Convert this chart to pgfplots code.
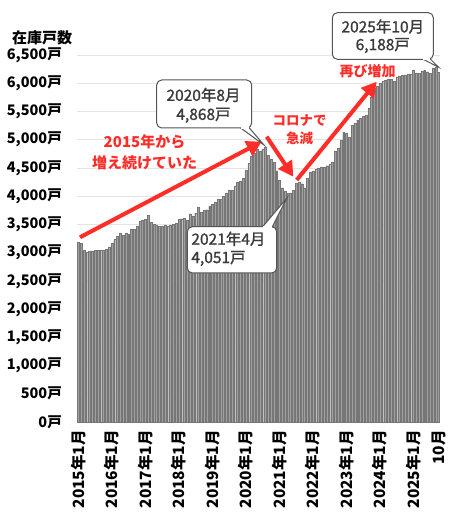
\documentclass[border=0pt]{standalone}
\usepackage{pgfplots}
\pgfplotsset{compat=1.18}
\usepackage{pgfplotstable}
\usepackage{fontspec}
\setmainfont{Noto Sans CJK JP}
\newfontfamily\medfont{Noto Sans CJK JP}[FakeBold=1.2]
\usetikzlibrary{arrows.meta}
\definecolor{barfill}{RGB}{160,160,160}
\definecolor{bardraw}{RGB}{118,118,118}
\definecolor{gridc}{RGB}{228,228,228}
\definecolor{axisc}{RGB}{90,90,90}
\definecolor{redc}{RGB}{255,45,40}
\definecolor{calltext}{RGB}{58,58,58}
\definecolor{callline}{RGB}{85,85,85}

\pgfplotstableread{
i v
0 3180
1 3170
2 3040
3 3010
4 3020
5 3030
6 3035
7 3045
8 3050
9 3045
10 3060
11 3100
12 3160
13 3230
14 3290
15 3350
16 3310
17 3350
18 3330
19 3410
20 3420
21 3470
22 3550
23 3580
24 3590
25 3666
26 3540
27 3510
28 3490
29 3460
30 3470
31 3490
32 3460
33 3480
34 3500
35 3520
36 3590
37 3600
38 3610
39 3570
40 3690
41 3650
42 3700
43 3800
44 3720
45 3750
46 3760
47 3830
48 3860
49 3900
50 3950
51 3940
52 4000
53 4060
54 4110
55 4100
56 4180
57 4250
58 4270
59 4320
60 4460
61 4580
62 4700
63 4760
64 4840
65 4790
66 4830
67 4868
68 4720
69 4650
70 4600
71 4450
72 4280
73 4150
74 4080
75 4051
76 4060
77 4100
78 4230
79 4250
80 4220
81 4150
82 4320
83 4430
84 4440
85 4470
86 4500
87 4520
88 4510
89 4540
90 4560
91 4600
92 4790
93 4850
94 4990
95 5140
96 5110
97 5050
98 5260
99 5290
100 5350
101 5380
102 5410
103 5440
104 5560
105 5760
106 5910
107 5950
108 6000
109 6030
110 6050
111 6065
112 6070
113 6030
114 6100
115 6125
116 6145
117 6150
118 6165
119 6160
120 6235
121 6185
122 6175
123 6220
124 6235
125 6205
126 6180
127 6265
128 6280
129 6188
}\datatable

\begin{document}
\begin{tikzpicture}
\useasboundingbox (0,0) rectangle (450pt,513pt);
\begin{axis}[
  at={(77pt,91pt)}, anchor=south west,
  scale only axis, width=363pt, height=367pt,
  xmin=-0.5, xmax=129.5, ymin=0, ymax=6500,
  axis x line*=bottom, axis y line*=left,
  x axis line style={draw=axisc, line width=1pt},
  y axis line style={draw=none},
  major tick length=0pt,
  ymajorgrids, grid style={draw=gridc, line width=0.8pt},
  ytick={0,500,...,6500},
  yticklabels={{0戸},{500戸},{1,000戸},{1,500戸},{2,000戸},{2,500戸},{3,000戸},{3,500戸},{4,000戸},{4,500戸},{5,000戸},{5,500戸},{6,000戸},{6,500戸}},
  yticklabel style={inner sep=0pt, font=\fontsize{14.5}{16}\selectfont\bfseries},
  yticklabel shift=15pt,
  xtick={0,12,24,36,48,60,72,84,96,108,120,129},
  xticklabels={2015年1月,2016年1月,2017年1月,2018年1月,2019年1月,2020年1月,2021年1月,2022年1月,2023年1月,2024年1月,2025年1月,10月},
  xticklabel style={rotate=90, anchor=east, inner sep=0pt, font=\fontsize{15.5}{17}\selectfont\bfseries},
  xticklabel shift=8pt,
  clip=false,
]
\addplot[ybar, bar width=1.95pt, fill=barfill, draw=bardraw, line width=0.3pt] table[x=i, y=v] {\datatable};
\end{axis}

\begin{scope}[x=1pt, y=-1pt, yshift=513pt]
  % title
  \node[anchor=west, inner sep=0pt, font=\fontsize{15}{17}\selectfont\bfseries] at (12,37.5) {在庫戸数};

  % red arrows
  \draw[redc, line width=4pt, -{Triangle[length=15pt,width=16pt]}] (80,237.3) -- (261.7,141.7);
  \draw[redc, line width=4pt, -{Triangle[length=15pt,width=16pt]}] (266.7,136.7) -- (293.3,176.7);
  \draw[redc, line width=4pt, -{Triangle[length=15pt,width=16pt]}] (296.7,180) -- (376.7,81.7);

  % red texts
  \node[text=redc, align=center, inner sep=0pt, font=\fontsize{15}{21.5}\selectfont\bfseries] at (144.5,152.3) {2015年から\\増え続けていた};
  \node[text=redc, align=center, inner sep=0pt, font=\fontsize{13.5}{17.6}\selectfont\bfseries] at (299.5,129.5) {コロナで\\急減};
  \node[text=redc, inner sep=0pt, font=\fontsize{14}{16}\selectfont\bfseries] at (367.5,70.7) {再び増加};

  % callout 1
  \filldraw[fill=white, draw=callline, line width=1pt] (240,127.5) -- (264,145) -- (249,127.5);
  \filldraw[fill=white, draw=callline, line width=1pt, rounded corners=5pt] (156.7,80) rectangle (251.7,128);
  \fill[white] (240.5,126.5) -- (248.5,126.5) -- (248.5,129) -- (240.5,129) -- cycle;
  \node[text=calltext, align=center, inner sep=0pt, font=\medfont\fontsize{15.5}{19}\selectfont] at (203.5,105.3) {2020年8月\\4,868戸};

  % callout 2
  \filldraw[fill=white, draw=callline, line width=1pt] (262,227.5) -- (286.7,198.3) -- (272,227.5);
  \filldraw[fill=white, draw=callline, line width=1pt, rounded corners=5pt] (187.3,226.7) rectangle (276.7,273);
  \fill[white] (262.5,226) -- (271.5,226) -- (271.5,228.5) -- (262.5,228.5) -- cycle;
  \node[anchor=west, text=calltext, align=left, inner sep=0pt, font=\medfont\fontsize{15.5}{18.3}\selectfont] at (191.2,248.8) {2021年4月\\4,051戸};

  % callout 3
  \filldraw[fill=white, draw=callline, line width=1pt] (422,58.8) -- (438.3,67) -- (430,58.8);
  \filldraw[fill=white, draw=callline, line width=1pt, rounded corners=5pt] (332.3,12.7) rectangle (433.3,59.3);
  \fill[white] (422.5,58) -- (429.5,58) -- (429.5,60.5) -- (422.5,60.5) -- cycle;
  \node[text=calltext, align=center, inner sep=0pt, font=\medfont\fontsize{15.5}{17.7}\selectfont] at (382.8,36.2) {2025年10月\\6,188戸};
\end{scope}
\end{tikzpicture}
\end{document}
